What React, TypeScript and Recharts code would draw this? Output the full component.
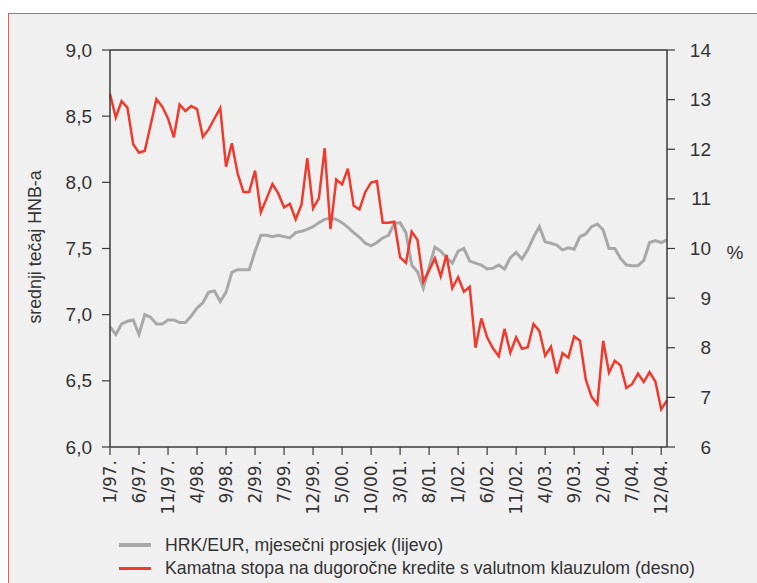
import React from "react";
import { LineChart, Line, XAxis, YAxis, ReferenceLine } from "recharts";

const months = [
  "1/97.","2/97.","3/97.","4/97.","5/97.","6/97.","7/97.","8/97.","9/97.","10/97.","11/97.","12/97.",
  "1/98.","2/98.","3/98.","4/98.","5/98.","6/98.","7/98.","8/98.","9/98.","10/98.","11/98.","12/98.",
  "1/99.","2/99.","3/99.","4/99.","5/99.","6/99.","7/99.","8/99.","9/99.","10/99.","11/99.","12/99.",
  "1/00.","2/00.","3/00.","4/00.","5/00.","6/00.","7/00.","8/00.","9/00.","10/00.","11/00.","12/00.",
  "1/01.","2/01.","3/01.","4/01.","5/01.","6/01.","7/01.","8/01.","9/01.","10/01.","11/01.","12/01.",
  "1/02.","2/02.","3/02.","4/02.","5/02.","6/02.","7/02.","8/02.","9/02.","10/02.","11/02.","12/02.",
  "1/03.","2/03.","3/03.","4/03.","5/03.","6/03.","7/03.","8/03.","9/03.","10/03.","11/03.","12/03.",
  "1/04.","2/04.","3/04.","4/04.","5/04.","6/04.","7/04.","8/04.","9/04.","10/04.","11/04.","12/04.",
  "1/05."
];

const hrkEur = [
  6.91, 6.85, 6.93, 6.95, 6.96, 6.85, 7.0, 6.98, 6.93, 6.93, 6.96, 6.96,
  6.94, 6.94, 6.99, 7.05, 7.09, 7.17, 7.18, 7.1, 7.17, 7.32, 7.34, 7.34,
  7.34, 7.48, 7.6, 7.6, 7.59, 7.6, 7.59, 7.58, 7.62, 7.63, 7.645, 7.665,
  7.695, 7.72, 7.73, 7.72, 7.695, 7.66, 7.62, 7.585, 7.54, 7.52, 7.545, 7.58,
  7.6, 7.69, 7.695, 7.62, 7.375, 7.325, 7.2, 7.36, 7.51, 7.48, 7.43, 7.39,
  7.48, 7.5, 7.405, 7.39, 7.375, 7.345, 7.35, 7.375, 7.345, 7.43, 7.47, 7.42,
  7.49, 7.585, 7.665, 7.55, 7.54, 7.525, 7.49, 7.505, 7.495, 7.59, 7.61, 7.665,
  7.685, 7.64, 7.5, 7.5, 7.425, 7.375, 7.37, 7.37, 7.41, 7.545, 7.56, 7.545,
  7.565
];

const kamatna = [
  13.11, 12.64, 12.97, 12.84, 12.1, 11.93, 11.97, 12.49, 13.01, 12.86, 12.62, 12.24,
  12.9, 12.77, 12.87, 12.81, 12.25, 12.4, 12.62, 12.83, 11.65, 12.12, 11.51, 11.14,
  11.14, 11.57, 10.73, 11.01, 11.3, 11.11, 10.83, 10.9, 10.59, 10.88, 11.82, 10.81,
  11.01, 12.02, 10.39, 11.39, 11.29, 11.61, 10.86, 10.79, 11.14, 11.33, 11.36, 10.52,
  10.52, 10.54, 9.82, 9.71, 10.34, 10.17, 9.33, 9.56, 9.8, 9.44, 9.87, 9.2,
  9.42, 9.13, 9.23, 8.0, 8.59, 8.21, 7.99, 7.83, 8.38, 7.9, 8.21, 7.98,
  8.01, 8.48, 8.34, 7.84, 8.02, 7.48, 7.89, 7.8, 8.23, 8.14, 7.36, 7.01,
  6.86, 8.14, 7.5, 7.74, 7.64, 7.19, 7.27, 7.48, 7.31, 7.51, 7.32, 6.76,
  6.94
];

const leftTicks = [6, 6.5, 7, 7.5, 8, 8.5, 9];
const rightTicks = [6, 7, 8, 9, 10, 11, 12, 13, 14];

const seriesNames = [
  "HRK/EUR, mjesečni prosjek (lijevo)",
  "Kamatna stopa na dugoročne kredite s valutnom klauzulom (desno)",
];
const leftTitle = "srednji tečaj HNB-a";
const rightTitle = "%";

const data = months.map((m, i) => ({ m, hrk: hrkEur[i], kam: kamatna[i] }));

const GRAY = "#a8a8a8";
const RED = "#f03a2e";
const AXIS = "#3a3a3a";
const TEXT = "#333333";
const TICK_FONT = "'Liberation Sans', Arial, sans-serif";

const XTick = (props: any) => {
  const { x, y, payload } = props;
  return (
    <text
      x={x}
      y={y}
      transform={`rotate(-90, ${x}, ${y})`}
      textAnchor="end"
      dominantBaseline="central"
      fill={TEXT}
      fontSize={17}
      fontFamily="'DejaVu Sans', sans-serif"
    >
      {payload.value}
    </text>
  );
};

const RightTick = (props: any) => {
  const { x, y, payload } = props;
  return (
    <text
      x={x + 34}
      y={y}
      textAnchor="end"
      dominantBaseline="central"
      fill={TEXT}
      fontSize={19}
      fontFamily={TICK_FONT}
    >
      {payload.value}
    </text>
  );
};

const LeftTick = (props: any) => {
  const { x, y, payload } = props;
  return (
    <text
      x={x}
      y={y}
      textAnchor="end"
      dominantBaseline="central"
      fill={TEXT}
      fontSize={19}
      fontFamily={TICK_FONT}
    >
      {Number(payload.value).toFixed(1).replace(".", ",")}
    </text>
  );
};

export default function App() {
  return (
    <div style={{ position: "absolute", left: 0, top: 0, width: 757, height: 583, background: "#ffffff", overflow: "hidden" }}>
      <div
        style={{
          position: "absolute",
          left: 8,
          top: 13,
          width: 800,
          height: 620,
          background: "#eff0ef",
          borderTop: "1.5px solid #ee5a50",
          borderLeft: "1.5px solid #ee5a50",
        }}
      />
      <div style={{ position: "absolute", left: 0, top: 0 }}>
        <LineChart
          width={757}
          height={583}
          data={data}
          margin={{ top: 50, right: 0, left: 0, bottom: 0 }}
        >
          <XAxis
            dataKey="m"
            interval={4}
            tick={<XTick />}
            tickSize={8}
            tickMargin={5}
            height={136}
            stroke={AXIS}
            strokeWidth={1.5}
            tickLine={{ stroke: AXIS, strokeWidth: 1.2 }}
          />
          <YAxis
            yAxisId="left"
            orientation="left"
            domain={[6, 9]}
            ticks={leftTicks}
            width={110}
            tickSize={8}
            tickMargin={10}
            tick={<LeftTick />}
            stroke={AXIS}
            strokeWidth={1.5}
            tickLine={{ stroke: AXIS, strokeWidth: 1.2 }}
            allowDataOverflow
            label={{
              content: () => (
                <text
                  x={35}
                  y={247}
                  transform="rotate(-90, 35, 247)"
                  textAnchor="middle"
                  dominantBaseline="central"
                  fill={TEXT}
                  fontSize={17.8}
                  fontFamily={TICK_FONT}
                >
                  {leftTitle}
                </text>
              ),
            }}
          />
          <YAxis
            yAxisId="right"
            orientation="right"
            domain={[6, 14]}
            ticks={rightTicks}
            width={90}
            tickSize={8}
            tickMargin={2}
            tick={<RightTick />}
            stroke={AXIS}
            strokeWidth={1.5}
            tickLine={{ stroke: AXIS, strokeWidth: 1.2 }}
            allowDataOverflow
            label={{
              content: () => (
                <text
                  x={735}
                  y={252}
                  textAnchor="middle"
                  dominantBaseline="central"
                  fill={TEXT}
                  fontSize={19}
                  fontFamily={TICK_FONT}
                >
                  {rightTitle}
                </text>
              ),
            }}
          />
          <ReferenceLine yAxisId="left" y={9} stroke={AXIS} strokeWidth={1.5} />
          <Line
            yAxisId="left"
            type="linear"
            dataKey="hrk"
            stroke={GRAY}
            strokeWidth={3}
            dot={false}
            isAnimationActive={false}
          />
          <Line
            yAxisId="right"
            type="linear"
            dataKey="kam"
            stroke={RED}
            strokeWidth={2.5}
            dot={false}
            isAnimationActive={false}
          />
        </LineChart>
      </div>
      {[GRAY, RED].map((c, i) => (
        <div
          key={i}
          style={{
            position: "absolute",
            left: 119,
            top: 533 + i * 23,
            height: 24,
            display: "flex",
            alignItems: "center",
            fontFamily: TICK_FONT,
            fontSize: 17.7,
            color: TEXT,
            whiteSpace: "nowrap",
          }}
        >
          <span style={{ display: "inline-block", width: 32, height: i === 0 ? 4 : 3, background: c, marginRight: 14 }} />
          <span>{seriesNames[i]}</span>
        </div>
      ))}
    </div>
  );
}
